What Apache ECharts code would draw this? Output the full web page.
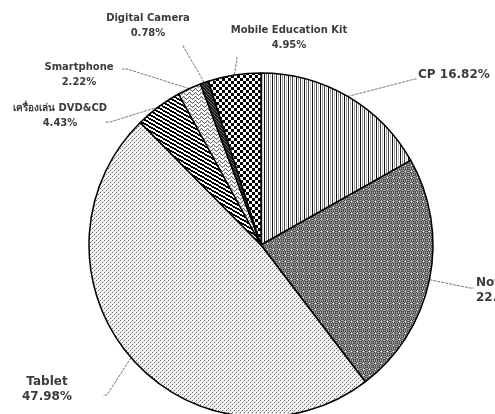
<!DOCTYPE html>
<html>
<head>
<meta charset="utf-8">
<script src="https://cdn.jsdelivr.net/npm/echarts@6/dist/echarts.min.js"></script>
<style>
html,body{margin:0;padding:0;background:#fff;}
#chart{width:495px;height:414px;}
</style>
</head>
<body>
<div id="chart"></div>
<script>
// ---- data ----
var categories = ['CP', 'Notebook', 'Tablet', 'เครื่องเล่น DVD&CD', 'Smartphone', 'Digital Camera', 'Mobile Education Kit'];
var values = [16.82, 22.82, 47.98, 4.43, 2.22, 0.78, 4.95];

// ---- styles / layout (not data) ----
var labelSizes = [12, 12, 12, 10, 10, 10, 10];
var labelPos = [
  {x: 418, y: 75, align: 'left', p1: [415, 79], p2: [417, 79]},
  {x: 476, y: 290, align: 'left', p1: [470, 288], p2: [474, 288]},
  {x: 47, y: 389, align: 'center', p1: [107, 395], p2: [103, 395]},
  {x: 60, y: 116, align: 'center', p1: [110, 122], p2: [105, 122]},
  {x: 79, y: 75, align: 'center', p1: [127, 69], p2: [122, 69]},
  {x: 148, y: 26, align: 'center', p1: [183, 46], p2: [183, 45]},
  {x: 289, y: 38, align: 'center', p1: [237, 58], p2: [237, 57]}
];

function makePattern(w, h, bg, fn) {
  var c = document.createElement('canvas');
  c.width = w; c.height = h;
  var ctx = c.getContext('2d');
  ctx.fillStyle = bg; ctx.fillRect(0, 0, w, h);
  for (var y = 0; y < h; y++) {
    for (var x = 0; x < w; x++) {
      var col = fn(x, y);
      if (col) { ctx.fillStyle = col; ctx.fillRect(x, y, 1, 1); }
    }
  }
  return {image: c, repeat: 'repeat'};
}

var patterns = [
  // CP: vertical lines
  makePattern(8, 1, '#fff', function (x) {
    return ['#111', null, '#9a9a9a', null, '#444', null, '#c4c4c4', null][x];
  }),
  // Notebook: gray grid texture
  makePattern(6, 6, '#777', function (x, y) {
    if (x === 3 && y === 3) return '#ffffff';
    if (x === 0 || y === 0) return (x + y) % 2 === 0 ? '#a8a8a8' : '#5a5a5a';
    if ((x + y) % 2 === 0) return '#4a4a4a';
    return '#9a9a9a';
  }),
  // Tablet: light dots
  makePattern(4, 4, '#f6f6f6', function (x, y) {
    if ((x === 0 && y === 0) || (x === 2 && y === 2)) return '#666';
    if ((x === 1 && y === 3) || (x === 3 && y === 1)) return '#c4c4c4';
    return null;
  }),
  // DVD: diagonal stripes
  makePattern(7, 4, '#fff', function (x, y) {
    var v = ((y - x * 4 / 7) % 4 + 4) % 4;
    return v < 2 ? '#000' : null;
  }),
  // Smartphone: zigzag
  makePattern(6, 4, '#fff', function (x, y) {
    var zz = [3, 2, 1, 0, 1, 2][x];
    return zz === y ? '#6a6a6a' : (Math.abs(zz - y) === 1 && x % 2 === 0 ? '#d0d0d0' : null);
  }),
  // Digital Camera: dark
  makePattern(3, 3, '#1a1a1a', function (x, y) {
    return (x === y) ? '#666' : null;
  }),
  // Mobile Education Kit: checkerboard
  makePattern(6, 6, '#fff', function (x, y) {
    return ((Math.floor(x / 3) + Math.floor(y / 3)) % 2 === 0) ? '#000' : null;
  })
];

var pieData = categories.map(function (name, i) {
  return {
    name: name,
    value: values[i],
    itemStyle: {color: patterns[i]},
    label: {fontSize: labelSizes[i]}
  };
});

var chart = echarts.init(document.getElementById('chart'), null, {renderer: 'canvas'});
chart.setOption({
  animation: false,
  backgroundColor: '#fff',
  series: [{
    type: 'pie',
    center: [261, 245],
    radius: 172,
    startAngle: 90,
    clockwise: true,
    avoidLabelOverlap: false,
    itemStyle: {borderColor: '#000', borderWidth: 1.5},
    label: {
      show: true,
      position: 'outside',
      color: '#3c3c3c',
      fontFamily: 'DejaVu Sans',
      fontWeight: 'bold',
      lineHeight: 15,
      formatter: function (p) {
        var v = p.value.toFixed(2) + '%';
        return p.dataIndex === 0 ? p.name + ' ' + v : p.name + '\n' + v;
      }
    },
    labelLine: {
      show: true,
      length: 20,
      length2: 5,
      lineStyle: {color: '#555', width: 0.8, type: [3, 1]}
    },
    labelLayout: function (params) {
      var L = labelPos[params.dataIndex];
      var start = params.labelLinePoints ? params.labelLinePoints[0] : L.p1;
      return {
        x: L.x,
        y: L.y,
        align: L.align,
        verticalAlign: 'middle',
        labelLinePoints: [start, L.p1, L.p2]
      };
    },
    data: pieData
  }]
});
</script>
</body>
</html>
